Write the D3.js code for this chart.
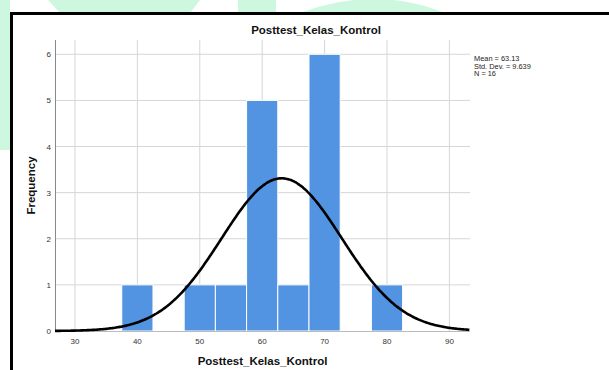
<!DOCTYPE html>
<html><head><meta charset="utf-8">
<script src="https://cdn.jsdelivr.net/npm/d3@7"></script>
<style>body{margin:0;background:#fff}svg{display:block;font-family:"Liberation Sans",Arial,sans-serif}</style>
</head><body><svg id="c" width="609" height="370"></svg>
<script>
const binStarts = [37.5, 47.5, 52.5, 57.5, 62.5, 67.5, 77.5];
const binCounts = [1, 1, 1, 5, 1, 6, 1];
const binWidth = 5;
const xTicks = [30, 40, 50, 60, 70, 80, 90];
const yTicks = [0, 1, 2, 3, 4, 5, 6];
const mean = 63.13, sd = 9.639, n = 16;
const statLines = ["Mean = 63.13", "Std. Dev. = 9.639", "N = 16"];
const title = "Posttest_Kelas_Kontrol";

const svg = d3.select("#c");
// watermark background shapes
const wm = svg.append("g").attr("fill", "#cdf8df");
wm.append("rect").attr("x", 0).attr("y", 0).attr("width", 10).attr("height", 150);
wm.append("path").attr("d", "M48,0 L200,0 L190,13 L60,13 Z");
wm.append("rect").attr("x", 238).attr("y", 0).attr("width", 38).attr("height", 13);
wm.append("path").attr("d", "M300,13 Q375,-15 445,13 Z");

// frame
svg.append("rect").attr("x", 11).attr("y", 13).attr("width", 610).attr("height", 370).attr("fill", "#fff");
svg.append("path").attr("d", "M11.5,370 L11.5,13.5 L609,13.5").attr("fill", "none").attr("stroke", "#000").attr("stroke-width", 3);

const x = d3.scaleLinear().domain([26.8, 93.3]).range([55, 470]);
const y = d3.scaleLinear().domain([0, 6.31]).range([331, 40]);

// grid
svg.append("g").selectAll("line").data(xTicks).join("line")
  .attr("x1", d => x(d)).attr("x2", d => x(d)).attr("y1", 40).attr("y2", 331)
  .attr("stroke", "#d6d6d6").attr("stroke-width", 1);
svg.append("g").selectAll("line").data(yTicks.filter(d => d > 0)).join("line")
  .attr("x1", 55).attr("x2", 470).attr("y1", d => y(d)).attr("y2", d => y(d))
  .attr("stroke", "#d6d6d6").attr("stroke-width", 1);

// bars
svg.append("g").selectAll("rect").data(binStarts.map((s, i) => ({s, c: binCounts[i]}))).join("rect")
  .attr("x", d => x(d.s)).attr("width", d => x(d.s + binWidth) - x(d.s))
  .attr("y", d => y(d.c)).attr("height", d => y(0) - y(d.c))
  .attr("fill", "#5294e2").attr("stroke", "#fff").attr("stroke-width", 1);

// axes lines
svg.append("line").attr("x1", 55.5).attr("x2", 55.5).attr("y1", 40).attr("y2", 331).attr("stroke", "#888");
svg.append("line").attr("x1", 55).attr("x2", 470).attr("y1", 331.5).attr("y2", 331.5).attr("stroke", "#bbb");

// normal curve
const pts = d3.range(26.8, 93.31, 0.2).map(v => [v, n * binWidth / (sd * Math.sqrt(2 * Math.PI)) * Math.exp(-0.5 * ((v - mean) / sd) ** 2)]);
svg.append("path").datum(pts)
  .attr("d", d3.line().x(d => x(d[0])).y(d => y(d[1])).curve(d3.curveBasis))
  .attr("fill", "none").attr("stroke", "#000").attr("stroke-width", 2.6);

// tick labels
svg.append("g").selectAll("text").data(xTicks).join("text")
  .attr("x", d => x(d)).attr("y", 344).attr("text-anchor", "middle")
  .attr("font-size", 8).attr("fill", "#333").text(d => d);
svg.append("g").selectAll("text").data(yTicks).join("text")
  .attr("x", 51).attr("y", d => y(d) + 3).attr("text-anchor", "end")
  .attr("font-size", 8).attr("fill", "#333").text(d => d);

// titles
svg.append("text").attr("x", 316).attr("y", 34).attr("text-anchor", "middle")
  .attr("font-size", 11.5).attr("font-weight", "bold").attr("fill", "#111").text(title);
svg.append("text").attr("x", 262.5).attr("y", 365).attr("text-anchor", "middle")
  .attr("font-size", 11.5).attr("font-weight", "bold").attr("fill", "#111").text(title);
svg.append("text").attr("transform", "translate(35,185.5) rotate(-90)").attr("text-anchor", "middle")
  .attr("font-size", 11.5).attr("font-weight", "bold").attr("fill", "#111").text("Frequency");

// stats
svg.append("g").selectAll("text").data(statLines).join("text")
  .attr("x", 474).attr("y", (d, i) => 61 + i * 7.6)
  .attr("font-size", 7.4).attr("fill", "#222").text(d => d);
</script></body></html>
